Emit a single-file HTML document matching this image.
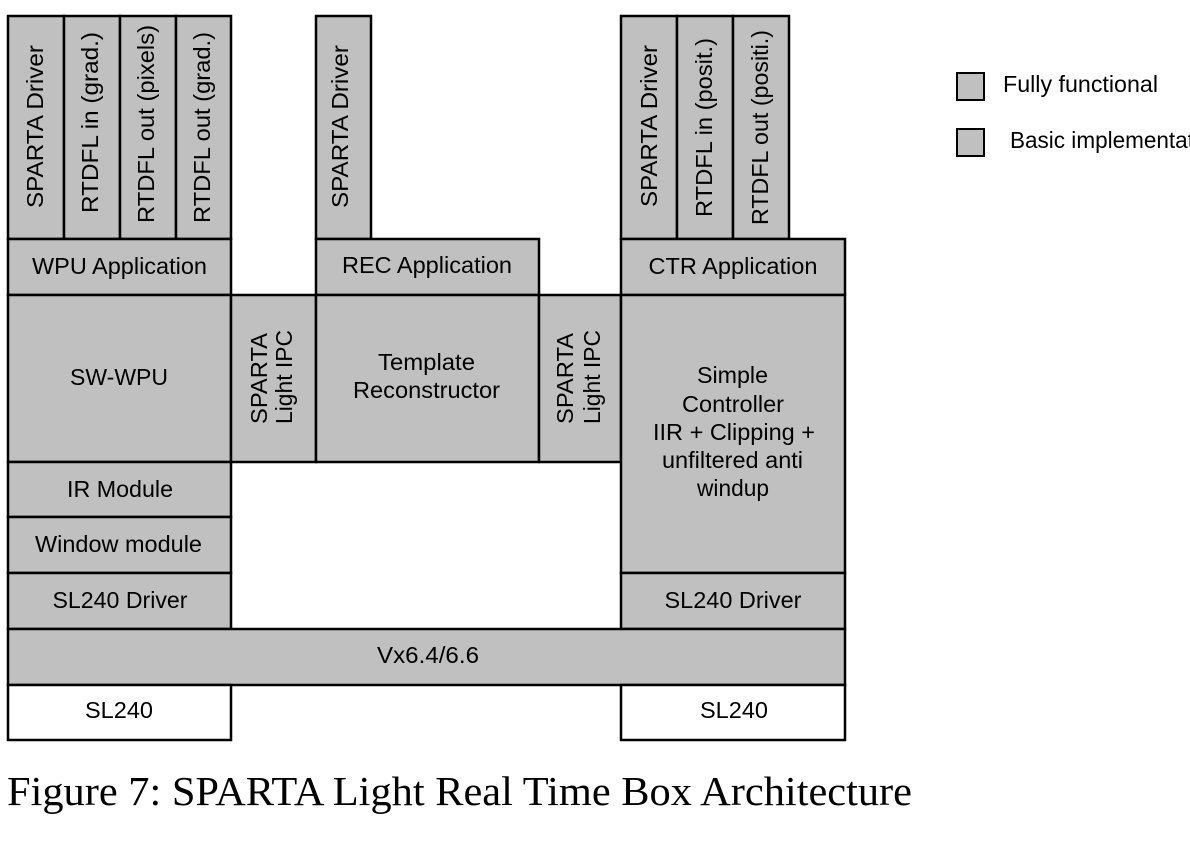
<!DOCTYPE html>
<html><head><meta charset="utf-8"><style>
html,body{margin:0;padding:0;background:#fff;overflow:hidden;}
svg{display:block;}
text{font-family:"Liberation Sans",Arial,sans-serif;font-size:23px;fill:#000;}
.cap{font-family:"Liberation Serif","Times New Roman",serif;font-size:41px;}
</style></head><body>
<svg width="1190" height="848" viewBox="0 0 1190 848" xmlns="http://www.w3.org/2000/svg">
<g fill="#c0c0c0" stroke="#000" stroke-width="2.5">
<!-- left top columns -->
<rect x="8" y="16" width="56" height="223"/>
<rect x="64" y="16" width="56" height="223"/>
<rect x="120" y="16" width="56" height="223"/>
<rect x="176" y="16" width="55" height="223"/>
<rect x="8" y="239" width="223" height="56"/>
<rect x="8" y="295" width="223" height="167"/>
<rect x="231" y="295" width="85" height="167"/>
<rect x="8" y="462" width="223" height="55"/>
<rect x="8" y="517" width="223" height="56"/>
<rect x="8" y="573" width="223" height="56"/>
<!-- middle -->
<rect x="316" y="16" width="55" height="223"/>
<rect x="316" y="239" width="223" height="56"/>
<rect x="316" y="295" width="223" height="167"/>
<rect x="539" y="295" width="82" height="167"/>
<!-- right -->
<rect x="621" y="16" width="56" height="223"/>
<rect x="677" y="16" width="56" height="223"/>
<rect x="733" y="16" width="56" height="223"/>
<rect x="621" y="239" width="224" height="56"/>
<rect x="621" y="295" width="224" height="278"/>
<rect x="621" y="573" width="224" height="56"/>
<!-- bottom -->
<rect x="8" y="629" width="837" height="56"/>
<rect x="8" y="685" width="223" height="55" fill="#fff"/>
<rect x="621" y="685" width="224" height="55" fill="#fff"/>
<!-- legend -->
<rect x="957" y="73" width="27" height="27" stroke-width="2"/>
<rect x="957" y="129" width="27" height="27" stroke-width="2"/>
</g>

<!-- vertical texts -->
<g text-anchor="middle">
<text transform="translate(43,126.5) rotate(-90)" textLength="163" lengthAdjust="spacingAndGlyphs">SPARTA Driver</text>
<text transform="translate(98,122.5) rotate(-90)" textLength="181" lengthAdjust="spacingAndGlyphs">RTDFL in (grad.)</text>
<text transform="translate(154,124) rotate(-90)" textLength="198" lengthAdjust="spacingAndGlyphs">RTDFL out (pixels)</text>
<text transform="translate(210,127.5) rotate(-90)" textLength="191" lengthAdjust="spacingAndGlyphs">RTDFL out (grad.)</text>
<text transform="translate(348,126.5) rotate(-90)" textLength="163" lengthAdjust="spacingAndGlyphs">SPARTA Driver</text>
<text transform="translate(657,126) rotate(-90)" textLength="162" lengthAdjust="spacingAndGlyphs">SPARTA Driver</text>
<text transform="translate(712,127.5) rotate(-90)" textLength="179" lengthAdjust="spacingAndGlyphs">RTDFL in (posit.)</text>
<text transform="translate(768,127.5) rotate(-90)" textLength="195" lengthAdjust="spacingAndGlyphs">RTDFL out (positi.)</text>
<text transform="translate(267,378.5) rotate(-90)" textLength="91" lengthAdjust="spacingAndGlyphs">SPARTA</text>
<text transform="translate(292,377) rotate(-90)" textLength="94" lengthAdjust="spacingAndGlyphs">Light IPC</text>
<text transform="translate(573,378.5) rotate(-90)" textLength="91" lengthAdjust="spacingAndGlyphs">SPARTA</text>
<text transform="translate(600,377) rotate(-90)" textLength="94" lengthAdjust="spacingAndGlyphs">Light IPC</text>
</g>

<!-- horizontal texts -->
<g text-anchor="middle">
<text x="119.5" y="274" textLength="175" lengthAdjust="spacingAndGlyphs">WPU Application</text>
<text x="427" y="273" textLength="170" lengthAdjust="spacingAndGlyphs">REC Application</text>
<text x="733" y="274" textLength="169" lengthAdjust="spacingAndGlyphs">CTR Application</text>
<text x="119" y="385" textLength="98" lengthAdjust="spacingAndGlyphs">SW-WPU</text>
<text x="426.5" y="370" textLength="97" lengthAdjust="spacingAndGlyphs">Template</text>
<text x="426.5" y="398" textLength="147" lengthAdjust="spacingAndGlyphs">Reconstructor</text>
<text x="732.5" y="383" textLength="71" lengthAdjust="spacingAndGlyphs">Simple</text>
<text x="733" y="412" textLength="102" lengthAdjust="spacingAndGlyphs">Controller</text>
<text x="734" y="440" textLength="162" lengthAdjust="spacingAndGlyphs">IIR + Clipping +</text>
<text x="732.5" y="468" textLength="141" lengthAdjust="spacingAndGlyphs">unfiltered anti</text>
<text x="733" y="496" textLength="72" lengthAdjust="spacingAndGlyphs">windup</text>
<text x="120" y="497" textLength="106" lengthAdjust="spacingAndGlyphs">IR Module</text>
<text x="118.5" y="552" textLength="167" lengthAdjust="spacingAndGlyphs">Window module</text>
<text x="120" y="608" textLength="135" lengthAdjust="spacingAndGlyphs">SL240 Driver</text>
<text x="733" y="608" textLength="137" lengthAdjust="spacingAndGlyphs">SL240 Driver</text>
<text x="428" y="663" textLength="102" lengthAdjust="spacingAndGlyphs">Vx6.4/6.6</text>
<text x="119" y="718" textLength="68" lengthAdjust="spacingAndGlyphs">SL240</text>
<text x="734" y="718" textLength="68" lengthAdjust="spacingAndGlyphs">SL240</text>
</g>

<text x="1003" y="92" textLength="155" lengthAdjust="spacingAndGlyphs">Fully functional</text>
<text x="1010" y="148" textLength="214" lengthAdjust="spacingAndGlyphs">Basic implementation</text>

<text class="cap" x="7" y="805" textLength="905" lengthAdjust="spacingAndGlyphs">Figure 7: SPARTA Light Real Time Box Architecture</text>
</svg>
</body></html>
